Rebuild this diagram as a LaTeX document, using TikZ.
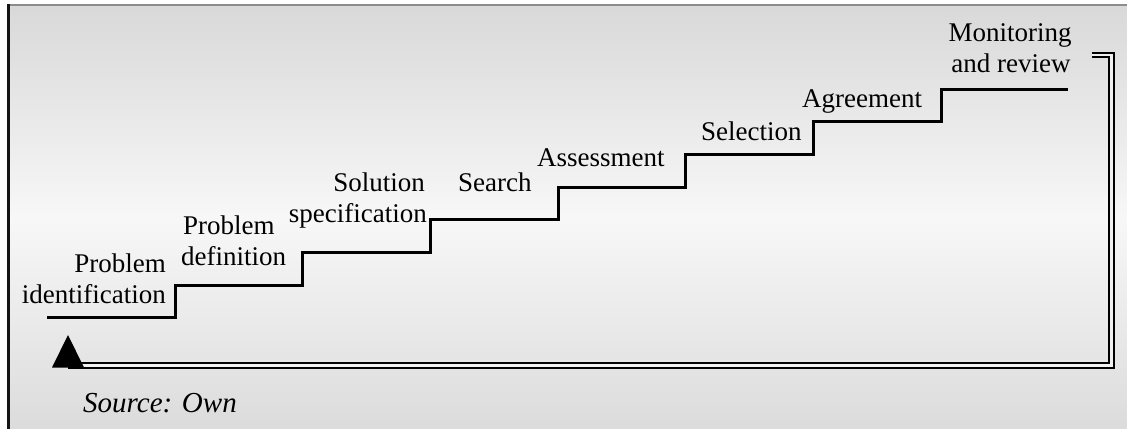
\documentclass[tikz,border=0pt]{standalone}
\usepackage{fontspec}
\setmainfont{Liberation Serif}
\begin{document}
\begin{tikzpicture}[x=1pt,y=-1pt,
  lbl/.style={inner sep=0pt, font=\fontsize{27}{31}\selectfont},
  stair/.style={line width=3pt, line join=miter, black},
  back/.style={double=black!6, line width=1.8pt, double distance=2.6pt, line join=miter}]
\useasboundingbox (0,0) rectangle (1127,429);
% panel: light in the middle, darker towards top and bottom
\foreach \i in {0,...,105}{
  \pgfmathsetmacro\ya{5+4*\i}
  \pgfmathsetmacro\t{(\ya-5)/424}
  \pgfmathsetmacro\k{\t<0.5 ? 15-24*\t : 3+22*(\t-0.5)}
  \fill[black!\k] (8,\ya) rectangle (1127,\ya+4.3);
}
\draw[line width=2pt, black!45] (8,5) -- (1127,5);
\draw[line width=2.6pt, black!92] (8.5,4) -- (8.5,429);
% staircase corners
\coordinate (s0) at (47,317.5);
\coordinate (s1) at (175,285);
\coordinate (s2) at (302,252.5);
\coordinate (s3) at (430,219.5);
\coordinate (s4) at (558,187);
\coordinate (s5) at (685.5,154);
\coordinate (s6) at (813,121.5);
\coordinate (s7) at (941,89);
\coordinate (s8) at (1068,89);
\draw[stair] (s0) -| (s1) -| (s2) -| (s3) -| (s4) -| (s5) -| (s6) -| (s7) -- (s8);
% return path back to the start
\coordinate (r0) at (1092,55);
\coordinate (r1) at (1111.5,365.5);
\coordinate (r2) at (68,365.5);
\draw[back] (r0) -| (r1) -- (r2);
\fill[black] (68,335) -- (84,367.5) -- (52,367.5) -- cycle;
% step labels
\node[lbl, anchor=base east] (l1a) at (166,272) {Problem};
\node[lbl, anchor=base east] (l1b) at (166,303) {identification};
\node[lbl, anchor=base west] (l2a) at (183,234) {Problem};
\node[lbl, anchor=base west] (l2b) at (181,265) {definition};
\node[lbl, anchor=base east] (l3a) at (425,191) {Solution};
\node[lbl, anchor=base east] (l3b) at (427,222) {specification};
\node[lbl, anchor=base west] (l4) at (458,191) {Search};
\node[lbl, anchor=base west] (l5) at (537,166) {Assessment};
\node[lbl, anchor=base west] (l6) at (701,140) {Selection};
\node[lbl, anchor=base west] (l7) at (802,107) {Agreement};
\node[lbl, anchor=base] (l8a) at (1010,41) {Monitoring};
\node[lbl, anchor=base] (l8b) at (1011,72) {and review};
\node[lbl, anchor=base west, font=\fontsize{29}{33}\selectfont\itshape] (src) at (83,412) {Source: Own};
\end{tikzpicture}
\end{document}
